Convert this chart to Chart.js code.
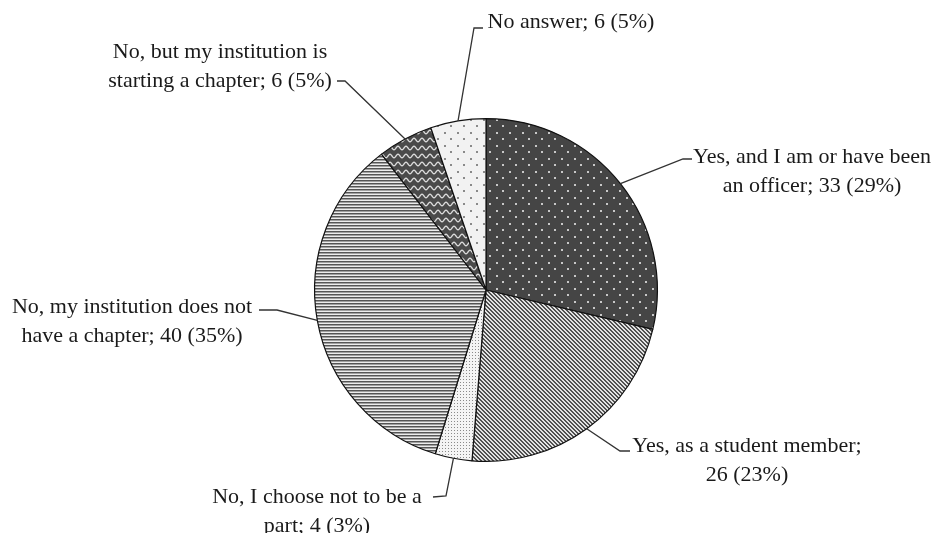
<!DOCTYPE html>
<html>
<head>
<meta charset="utf-8">
<script src="https://cdn.jsdelivr.net/npm/chart.js@4.4.0/dist/chart.umd.min.js"></script>
<style>
  html, body { margin: 0; padding: 0; background: #fff; }
  #wrap { width: 937px; height: 533px; }
</style>
</head>
<body>
<div id="wrap"><canvas id="pieChart" width="937" height="533"></canvas></div>
<script>
// Survey answers, clockwise from 12 o'clock
const categories = [
    'Yes, and I am or have been an officer',
    'Yes, as a student member',
    'No, I choose not to be a part',
    'No, my institution does not have a chapter',
    'No, but my institution is starting a chapter',
    'No answer'
];
const counts = [33, 26, 4, 40, 6, 6];
const percents = [29, 23, 3, 35, 5, 5];

const ctx = document.getElementById('pieChart').getContext('2d');

// small helper for the black & white fill patterns
function makePattern(w, h, draw) {
    const c = document.createElement('canvas');
    c.width = w;
    c.height = h;
    const g = c.getContext('2d');
    draw(g, w, h);
    return ctx.createPattern(c, 'repeat');
}

function dotGrid(bg, dot) {
    return makePattern(13, 13, (g) => {
        g.fillStyle = bg;
        g.fillRect(0, 0, 13, 13);
        g.fillStyle = dot;
        g.fillRect(2, 2, 2, 2);
        g.fillRect(8, 8, 2, 2);
    });
}

const patterns = [
    dotGrid('#454545', '#c8c8c8'),
    // diagonal stripes
    makePattern(4, 4, (g) => {
        g.fillStyle = '#e2e2e2';
        g.fillRect(0, 0, 4, 4);
        g.fillStyle = '#505050';
        for (let y = 0; y < 4; y++) {
            g.fillRect(y % 4, y, 1, 1);
            g.fillRect((y + 1) % 4, y, 1, 1);
        }
    }),
    // fine dots
    makePattern(3, 3, (g) => {
        g.fillStyle = '#f4f4f4';
        g.fillRect(0, 0, 3, 3);
        g.fillStyle = '#8a8a8a';
        g.fillRect(1, 1, 1, 1);
    }),
    // horizontal lines
    makePattern(3, 3, (g) => {
        g.fillStyle = '#ececec';
        g.fillRect(0, 0, 3, 3);
        g.fillStyle = '#555';
        g.fillRect(0, 0, 3, 1);
        g.fillStyle = '#a0a0a0';
        g.fillRect(0, 1, 3, 1);
    }),
    // zigzag waves
    makePattern(8, 8, (g) => {
        g.fillStyle = '#4a4a4a';
        g.fillRect(0, 0, 8, 8);
        g.strokeStyle = '#dcdcdc';
        g.lineWidth = 1.3;
        g.beginPath();
        for (let x = -1; x <= 9; x += 0.5) {
            const y = 4 + 1.8 * Math.sin(2 * Math.PI * x / 8);
            if (x === -1) g.moveTo(x, y); else g.lineTo(x, y);
        }
        g.stroke();
    }),
    dotGrid('#f2f2f2', '#8a8a8a')
];

// where each label block sits and how its leader line bends
const labelLayout = [
    { x: 812, y: 157, elbow: [683, 159], end: [692, 159] },
    { x: 747, y: 446, elbow: [620, 451], end: [630, 451] },
    { x: 317, y: 497, elbow: [446, 496], end: [433, 497] },
    { x: 132, y: 307, elbow: [277, 310], end: [259, 310] },
    { x: 220, y: 52, elbow: [345, 81], end: [337, 81] },
    { x: 571, y: 22, elbow: [474, 28], end: [483, 28] }
];

function wrapText(c, text, maxW) {
    const words = text.split(' ');
    const lines = [];
    let cur = '';
    words.forEach((w) => {
        const test = cur ? cur + ' ' + w : w;
        if (c.measureText(test).width > maxW && cur) {
            lines.push(cur);
            cur = w;
        } else {
            cur = test;
        }
    });
    lines.push(cur);
    return lines;
}

const calloutPlugin = {
    id: 'callouts',
    afterDraw(chart) {
        const c = chart.ctx;
        const meta = chart.getDatasetMeta(0);
        c.save();
        c.font = '22px "Liberation Serif", "Times New Roman", serif';
        c.fillStyle = '#1a1a1a';
        c.textAlign = 'center';
        c.textBaseline = 'middle';
        c.strokeStyle = '#333';
        c.lineWidth = 1.3;
        meta.data.forEach((arc, i) => {
            const p = arc.getProps(['x', 'y', 'startAngle', 'endAngle', 'outerRadius'], true);
            const mid = (p.startAngle + p.endAngle) / 2;
            const ax = p.x + Math.cos(mid) * p.outerRadius;
            const ay = p.y + Math.sin(mid) * p.outerRadius;
            const lay = labelLayout[i];
            c.beginPath();
            c.moveTo(ax, ay);
            c.lineTo(lay.elbow[0], lay.elbow[1]);
            c.lineTo(lay.end[0], lay.end[1]);
            c.stroke();
            const text = categories[i] + '; ' + counts[i] + ' (' + percents[i] + '%)';
            const lines = wrapText(c, text, 248);
            lines.forEach((ln, k) => {
                c.fillText(ln, lay.x, lay.y + k * 29);
            });
        });
        c.restore();
    }
};

new Chart(ctx, {
    type: 'pie',
    data: {
        labels: categories,
        datasets: [{
            data: counts,
            backgroundColor: patterns,
            borderColor: '#111',
            borderWidth: 1.2
        }]
    },
    options: {
        responsive: false,
        animation: false,
        layout: {
            padding: { top: 118, bottom: 71, left: 35, right: 0 }
        },
        plugins: {
            legend: { display: false },
            tooltip: { enabled: false }
        }
    },
    plugins: [calloutPlugin]
});
</script>
</body>
</html>
